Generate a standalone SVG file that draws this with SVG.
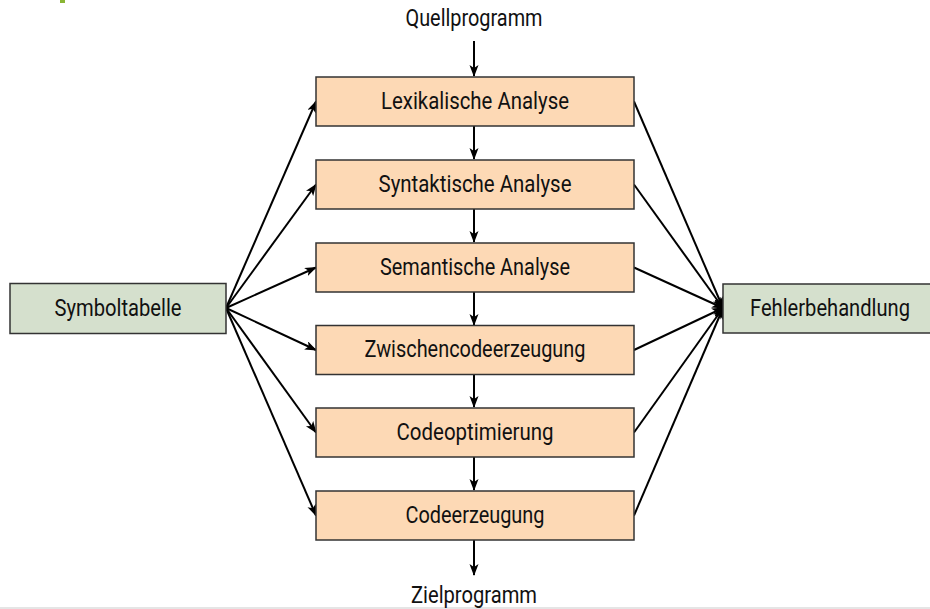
<svg xmlns="http://www.w3.org/2000/svg" width="930" height="609" viewBox="0 0 930 609">
<style>
.phase{fill:#fdd9b5;stroke:#333;stroke-width:1.5}
.side{fill:#d5e0cd;stroke:#333;stroke-width:1.5}
text{font-family:Roboto,"Liberation Sans",sans-serif;font-size:23.5px;fill:#111;text-anchor:middle}
.c line{stroke:#000;stroke-width:2;marker-end:url(#ah)}
</style>
<defs>
<marker id="ah" markerWidth="12" markerHeight="10" refX="11" refY="4.5" orient="auto" markerUnits="userSpaceOnUse">
<path d="M0,0 L12,4.5 L0,9 L3,4.5 z" fill="#000"/>
</marker>
</defs>
<rect x="60" y="0" width="5" height="3" fill="#8ab534"/>
<line x1="0" y1="608" x2="930" y2="608" stroke="#ddd" stroke-width="1.5"/>
<g class="c" id="connectors">
<line x1="474" y1="41" x2="474" y2="76"/>
<line x1="474" y1="126" x2="474" y2="159"/>
<line x1="474" y1="209" x2="474" y2="242"/>
<line x1="474" y1="292" x2="474" y2="325"/>
<line x1="474" y1="375" x2="474" y2="407"/>
<line x1="474" y1="457" x2="474" y2="490"/>
<line x1="474" y1="540" x2="474" y2="575"/>
<line x1="226" y1="308" x2="316" y2="101.5"/>
<line x1="226" y1="308" x2="316" y2="184.5"/>
<line x1="226" y1="308" x2="316" y2="267.5"/>
<line x1="226" y1="308" x2="316" y2="350"/>
<line x1="226" y1="308" x2="316" y2="432.5"/>
<line x1="226" y1="308" x2="316" y2="515.5"/>
<line x1="634" y1="101.5" x2="723" y2="308"/>
<line x1="634" y1="184.5" x2="723" y2="308"/>
<line x1="634" y1="267.5" x2="723" y2="308"/>
<line x1="634" y1="350" x2="723" y2="308"/>
<line x1="634" y1="432.5" x2="723" y2="308"/>
<line x1="634" y1="515.5" x2="723" y2="308"/>
</g>
<g id="quelle"><text x="474" y="26" textLength="137" lengthAdjust="spacingAndGlyphs">Quellprogramm</text></g>
<g id="ziel"><text x="474" y="603" textLength="126" lengthAdjust="spacingAndGlyphs">Zielprogramm</text></g>
<g id="lex"><rect class="phase" x="316" y="77" width="318" height="49"/><text x="475" y="108.5" textLength="188" lengthAdjust="spacingAndGlyphs">Lexikalische Analyse</text></g>
<g id="syn"><rect class="phase" x="316" y="160" width="318" height="49"/><text x="475" y="191.5" textLength="193" lengthAdjust="spacingAndGlyphs">Syntaktische Analyse</text></g>
<g id="sem"><rect class="phase" x="316" y="243" width="318" height="49"/><text x="475" y="274.5" textLength="190" lengthAdjust="spacingAndGlyphs">Semantische Analyse</text></g>
<g id="zwi"><rect class="phase" x="316" y="325.5" width="318" height="49"/><text x="475" y="357" textLength="221" lengthAdjust="spacingAndGlyphs">Zwischencodeerzeugung</text></g>
<g id="opt"><rect class="phase" x="316" y="408" width="318" height="49"/><text x="475" y="439.5" textLength="157" lengthAdjust="spacingAndGlyphs">Codeoptimierung</text></g>
<g id="gen"><rect class="phase" x="316" y="491" width="318" height="49"/><text x="475" y="522.5" textLength="139" lengthAdjust="spacingAndGlyphs">Codeerzeugung</text></g>
<g id="sym"><rect class="side" x="10" y="283.5" width="216" height="50"/><text x="118" y="315.5" textLength="127" lengthAdjust="spacingAndGlyphs">Symboltabelle</text></g>
<g id="fehler"><rect class="side" x="723" y="284" width="208" height="49"/><text x="830" y="315.5" textLength="160" lengthAdjust="spacingAndGlyphs">Fehlerbehandlung</text></g>
</svg>
